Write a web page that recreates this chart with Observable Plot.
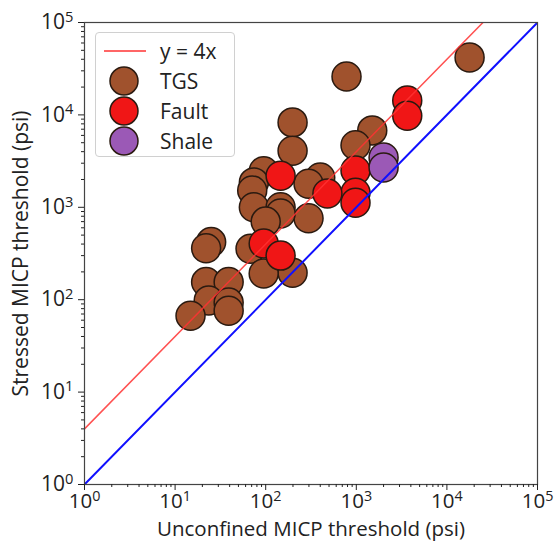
<!DOCTYPE html>
<html>
<head>
<meta charset="utf-8">
<script src="https://cdn.jsdelivr.net/npm/d3@7"></script>
<script src="https://cdn.jsdelivr.net/npm/@observablehq/plot@0.6"></script>
<style>
  html, body { margin: 0; padding: 0; background: #fff; }
  #wrap { position: relative; width: 559px; height: 541px; font-family: "Open Sans", sans-serif; }
  #legend { position: absolute; left: 95px; top: 32px; width: 140px; height: 125px; border: 1px solid #d0d0d0; border-radius: 4px; background: rgba(255,255,255,0.85); box-sizing: border-box; }
  .row { position: absolute; left: 0; height: 30px; display: flex; align-items: center; font-size: 21px; color: #222; }
  .row svg { margin-left: 6px; margin-right: 14px; }
</style>
</head>
<body>
<div id="wrap"></div>
<script>
// ---- data ----
const tgsX = [17800, 780, 198, 198, 1500, 980, 400, 297, 297, 198, 25, 22, 22, 39, 23.5, 39, 39, 14.8, 68, 95, 95, 74, 71, 74, 146, 146, 100];
const tgsY = [41900, 26000, 8300, 4100, 6800, 4700, 2100, 1800, 760, 196, 420, 360, 155, 155, 98, 93, 76, 67, 356, 192, 2450, 1860, 1520, 1000, 1000, 855, 700];
const faultX = [3650, 3650, 980, 980, 980, 480, 146, 95, 146];
const faultY = [14300, 9800, 2500, 1440, 1120, 1410, 2200, 406, 300];
const shaleX = [2000, 2000];
const shaleY = [3460, 2700];
const lineX = [1, 100000];
const majorTicks = [1, 10, 100, 1000, 10000, 100000];
const xLabel = "Unconfined MICP threshold (psi)";
const yLabel = "Stressed MICP threshold (psi)";
const legendItems = ["y = 4x", "TGS", "Fault", "Shale"];

const colors = {TGS: "#a0522d", Fault: "#f01616", Shale: "#9b59b6"};

const pts = [];
tgsX.forEach((v, i) => pts.push({x: v, y: tgsY[i], g: "TGS"}));
faultX.forEach((v, i) => pts.push({x: v, y: faultY[i], g: "Fault"}));
shaleX.forEach((v, i) => pts.push({x: v, y: shaleY[i], g: "Shale"}));

const minor = [];
for (let e = 0; e < 5; e++) for (let k = 2; k < 10; k++) minor.push(k * Math.pow(10, e));

const one2one = lineX.map(v => ({x: v, y: v}));
const four = lineX.map(v => ({x: v, y: 4 * v}));
const fmt = d => "10^" + Math.round(Math.log10(d));

const chart = Plot.plot({
  width: 559,
  height: 541,
  marginLeft: 84,
  marginRight: 22,
  marginTop: 22,
  marginBottom: 57,
  style: {fontFamily: "'Open Sans', sans-serif", color: "#222", background: "transparent"},
  x: {type: "log", domain: [1, 1e5]},
  y: {type: "log", domain: [1, 1e5]},
  marks: [
    Plot.dot(pts, {x: "x", y: "y", r: 14.5, fill: d => colors[d.g], stroke: "#2a1a10", strokeWidth: 1.5}),
    Plot.line(four, {x: "x", y: "y", stroke: "#ff3333", strokeWidth: 1.5, strokeOpacity: 0.85, clip: true}),
    Plot.line(one2one, {x: "x", y: "y", stroke: "#1010ff", strokeWidth: 2, clip: true}),
    Plot.frame({stroke: "#444", strokeWidth: 1.2}),
    Plot.axisX({ticks: majorTicks, tickFormat: fmt, tickSize: 6, tickPadding: 3, fontSize: 20.5, label: null}),
    Plot.axisX({ticks: minor, tickFormat: () => "", tickSize: 3, label: null}),
    Plot.axisY({ticks: majorTicks, tickFormat: fmt, tickSize: 6, tickPadding: 5, fontSize: 21, label: null}),
    Plot.axisY({ticks: minor, tickFormat: () => "", tickSize: 3, label: null}),
    Plot.text([xLabel], {text: d => d, frameAnchor: "bottom", lineAnchor: "middle", dy: 45, fontSize: 20.5, fill: "#222"}),
    Plot.text([yLabel], {text: d => d, frameAnchor: "left", textAnchor: "middle", lineAnchor: "middle", dx: -63, rotate: -90, fontSize: 21, fill: "#222"})
  ]
});

// render "10^n" tick labels with a real superscript
chart.querySelectorAll("text").forEach(t => {
  const m = /^10\^(\d)$/.exec(t.textContent);
  if (m) {
    t.textContent = "10";
    const s = document.createElementNS("http://www.w3.org/2000/svg", "tspan");
    s.setAttribute("dy", "-0.5em");
    s.setAttribute("font-size", "0.7em");
    s.textContent = m[1];
    t.appendChild(s);
  }
});

const wrap = document.getElementById("wrap");
wrap.appendChild(chart);

const legend = document.createElement("div");
legend.id = "legend";
const swatch = [
  `<svg width="44" height="30"><line x1="2" y1="15" x2="44" y2="15" stroke="#ff3333" stroke-width="1.5"/></svg>`,
  `<svg width="44" height="30"><circle cx="22" cy="15" r="14" fill="${colors.TGS}" stroke="#2a1a10" stroke-width="1.5"/></svg>`,
  `<svg width="44" height="30"><circle cx="22" cy="15" r="14" fill="${colors.Fault}" stroke="#2a1a10" stroke-width="1.5"/></svg>`,
  `<svg width="44" height="30"><circle cx="22" cy="15" r="14" fill="${colors.Shale}" stroke="#2a1a10" stroke-width="1.5"/></svg>`
];
legendItems.forEach((t, i) => {
  const r = document.createElement("div");
  r.className = "row";
  r.style.top = (3 + i * 30) + "px";
  r.innerHTML = swatch[i] + "<span>" + t + "</span>";
  legend.appendChild(r);
});
wrap.appendChild(legend);
</script>
</body>
</html>
